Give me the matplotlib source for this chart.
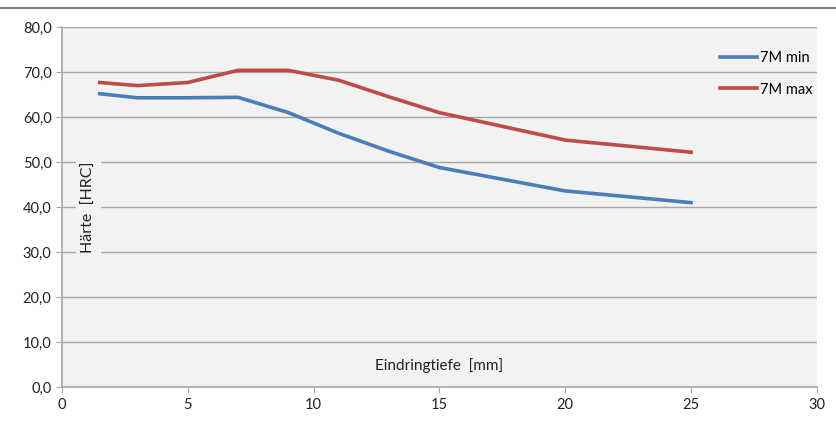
import matplotlib.pyplot as plt
from matplotlib.lines import Line2D

plt.rcParams['font.family'] = ['Lato', 'DejaVu Sans']

tiefe = [1.5, 3, 5, 7, 9, 11, 13, 15, 20, 25]
min_7m = [65.2, 64.3, 64.3, 64.4, 61.0, 56.4, 52.4, 48.8, 43.6, 41.0]
max_7m = [67.7, 67.0, 67.7, 70.4, 70.4, 68.2, 64.5, 61.0, 54.9, 52.2]
y_ticks = [0, 10, 20, 30, 40, 50, 60, 70, 80]
x_ticks = [0, 5, 10, 15, 20, 25, 30]

bg = '#f2f2f2'
fig = plt.figure(figsize=(8.37, 4.24), dpi=100)
ax = fig.add_axes([0.074, 0.087, 0.902, 0.849])
ax.set_facecolor(bg)

ax.plot(tiefe, min_7m, color='#4a7ebb', lw=2.6, label='7M min', solid_joinstyle='round')
ax.plot(tiefe, max_7m, color='#be4b48', lw=2.6, label='7M max', solid_joinstyle='round')

ax.set_xlim(0, 30)
ax.set_ylim(0, 80)
ax.set_xticks(x_ticks)
ax.set_yticks(y_ticks)
ax.set_xticklabels([str(t) for t in x_ticks])
ax.set_yticklabels([('%.1f' % t).replace('.', ',') for t in y_ticks])
ax.grid(axis='y', color='#a6a6a6', lw=1)
ax.set_axisbelow(True)
for s in ['top', 'right']:
    ax.spines[s].set_visible(False)
for s in ['left', 'bottom']:
    ax.spines[s].set_color('#a6a6a6')
    ax.spines[s].set_linewidth(1.2)
ax.tick_params(colors='#a6a6a6', labelcolor='#222222', labelsize=10.5, direction='out', length=4)

# Achsentitel innerhalb der Zeichenflaeche
ax.text(1.05, 40, 'Härte  [HRC]', rotation=90, ha='center', va='center', fontsize=11.5,
        color='#222222', bbox=dict(facecolor=bg, edgecolor='none', pad=4))
ax.text(15, 4.9, 'Eindringtiefe  [mm]', ha='center', va='center', fontsize=11,
        color='#222222', bbox=dict(facecolor=bg, edgecolor='none', pad=3))

ax.legend(loc='upper right', bbox_to_anchor=(1.012, 0.97), frameon=False, fontsize=10.5,
          handlelength=2.6, labelspacing=1.2, handletextpad=0.2)

fig.add_artist(Line2D([0, 1], [0.981, 0.981], transform=fig.transFigure, color='#7f7f7f', lw=1.5))

fig.savefig('out.png', dpi=100)
